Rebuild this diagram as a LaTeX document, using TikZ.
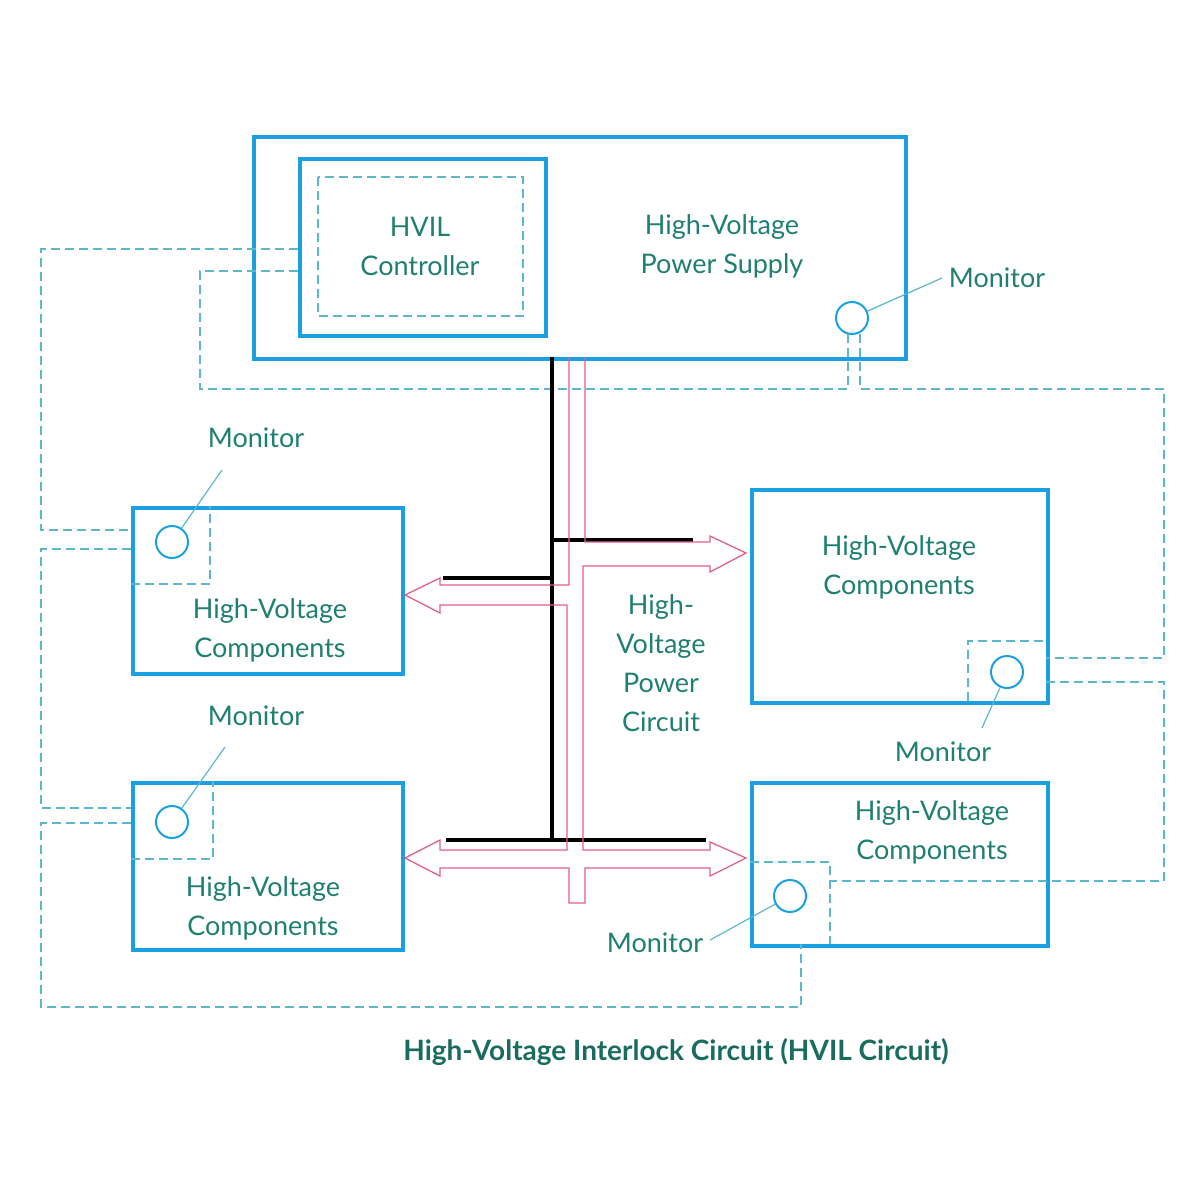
\documentclass[tikz,border=0pt]{standalone}
\usepackage{fontspec}
\setmainfont{Lato}
\begin{document}
\begin{tikzpicture}[x=1pt,y=-1pt,
  box/.style={draw=hvblue,line width=4pt},
  dsh/.style={draw=dcol,line width=1.3pt,dash pattern=on 9pt off 5pt},
  mon/.style={circle,draw=hvblue,line width=2pt,minimum size=32pt,inner sep=0},
  lab/.style={text=tcol,font=\fontsize{27}{39}\selectfont,align=center},
  ptr/.style={draw=dcol,line width=1.2pt},
  bus/.style={draw=black,line width=4pt},
  pk/.style={draw=pcol,line width=1.3pt}]
\definecolor{hvblue}{HTML}{1A9FE0}
\definecolor{dcol}{HTML}{5BB8CC}
\definecolor{tcol}{HTML}{1F7F70}
\definecolor{pcol}{HTML}{E0608A}
\useasboundingbox (0,0) rectangle (1200,1200);
% boxes
\node[box,minimum width=652pt,minimum height=222pt,anchor=north west,inner sep=0] (ps) at (252,135) {};
\node[box,minimum width=246pt,minimum height=177pt,anchor=north west,inner sep=0] (ctl) at (298,157) {};
\draw[dsh] (318,177) rectangle (523,316);
\node[lab] (ctlt) at (420,246) {HVIL\\Controller};
\node[lab] (pst) at (722,246) {High-Voltage\\Power Supply};
\node[box,minimum width=270pt,minimum height=166pt,anchor=north west,inner sep=0] (b1) at (131,506) {};
\node[lab] (b1t) at (270,630) {High-Voltage\\Components};
\node[box,minimum width=270pt,minimum height=167pt,anchor=north west,inner sep=0] (b2) at (131,781) {};
\node[lab] (b2t) at (263,908) {High-Voltage\\Components};
\node[box,minimum width=296pt,minimum height=213pt,anchor=north west,inner sep=0] (b3) at (750,488) {};
\node[lab] (b3t) at (899,567) {High-Voltage\\Components};
\node[box,minimum width=296pt,minimum height=163pt,anchor=north west,inner sep=0] (b4) at (750,781) {};
\node[lab] (b4t) at (932,832) {High-Voltage\\Components};
% monitors
\node[mon] (m0) at (852,318) {};
\node[lab] (m0t) at (997,278) {Monitor};
\draw[ptr] (m0) -- (942,278);
\node[mon] (m1) at (172,542) {};
\node[lab] (m1t) at (256,438) {Monitor};
\draw[ptr] (m1) -- (222,470);
\node[mon] (m2) at (172,822) {};
\node[lab] (m2t) at (256,716) {Monitor};
\draw[ptr] (m2) -- (225,747);
\node[mon] (m3) at (1007,672) {};
\node[lab] (m3t) at (943,752) {Monitor};
\draw[ptr] (m3) -- (982,728);
\node[mon] (m4) at (790,896) {};
\node[lab] (m4t) at (655,943) {Monitor};
\draw[ptr] (m4) -- (710,940);
% monitor dashed corners
\draw[dsh] (131,584) -- (210,584) -- (210,506);
\draw[dsh] (131,859) -- (213,859) -- (213,781);
\draw[dsh] (968,701) -- (968,641) -- (1046,641);
\draw[dsh] (750,862) -- (830,862) -- (830,944);
% HVIL loop
\draw[dsh] (298,249) -- (41,249) -- (41,530) -- (131,530);
\draw[dsh] (131,549) -- (41,549) -- (41,808) -- (131,808);
\draw[dsh] (131,823) -- (41,823) -- (41,1007) -- (801,1007) -- (801,944);
\draw[dsh] (298,271) -- (200,271) -- (200,389) -- (848,389) -- (848,334);
\draw[dsh] (860,334) -- (860,389) -- (1164,389) -- (1164,658) -- (1046,658);
\draw[dsh] (1046,682) -- (1164,682) -- (1164,881) -- (830,881);
% bus
\draw[bus] (552,357) -- (552,840);
\draw[bus] (552,540) -- (693,540);
\draw[bus] (443,578) -- (552,578);
\draw[bus] (446,840) -- (706,840);
% pink arrows
\draw[pk] (585,357) -- (585,542) -- (710,542) -- (710,536) -- (746,553) -- (710,572) -- (710,566) -- (583,566)
  -- (583,850) -- (710,850) -- (710,842) -- (746,858) -- (710,876) -- (710,868) -- (585,868) -- (585,903)
  -- (569,903) -- (569,868) -- (440,868) -- (440,876) -- (405,858) -- (440,840) -- (440,850) -- (567,850)
  -- (567,605) -- (440,605) -- (440,613) -- (405,595) -- (440,578) -- (440,585) -- (569,585) -- (569,357);
\node[lab] (hvpc) at (661,663) {High-\\Voltage\\Power\\Circuit};
\node[text=tcol!85!black,font=\fontsize{28}{32}\selectfont\bfseries] (title) at (676,1052) {High-Voltage Interlock Circuit (HVIL Circuit)};
\end{tikzpicture}
\end{document}
